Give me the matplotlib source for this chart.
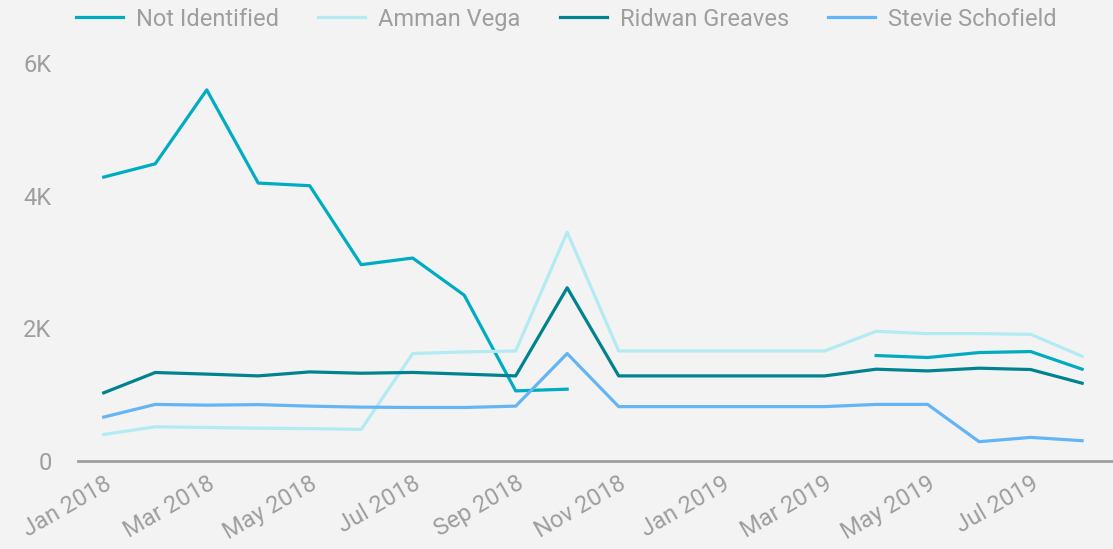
#Line chart of monthly counts per person, Jan 2018 - Aug 2019
import numpy as np
import matplotlib.pyplot as plt
from matplotlib.ticker import FuncFormatter

plt.rcParams['font.family'] = ['Roboto', 'DejaVu Sans']

months = ['Jan 2018', 'Feb 2018', 'Mar 2018', 'Apr 2018', 'May 2018', 'Jun 2018',
          'Jul 2018', 'Aug 2018', 'Sep 2018', 'Oct 2018', 'Nov 2018', 'Dec 2018',
          'Jan 2019', 'Feb 2019', 'Mar 2019', 'Apr 2019', 'May 2019', 'Jun 2019',
          'Jul 2019', 'Aug 2019']

nan = np.nan
not_identified = [4280, 4480, 5595, 4190, 4150, 2960, 3060, 2500, 1057, 1083,
                  nan, nan, nan, nan, nan, 1590, 1560, 1635, 1650, 1384]
amman_vega = [400, 516, 505, 495, 488, 476, 1620, 1644, 1659, 3449,
              1659, 1659, 1659, 1659, 1659, 1955, 1920, 1920, 1910, 1579]
ridwan_greaves = [1028, 1334, 1310, 1283, 1343, 1323, 1335, 1310, 1283, 2612,
                  1283, 1283, 1283, 1283, 1283, 1384, 1358, 1399, 1379, 1173]
stevie_schofield = [662, 853, 842, 850, 827, 812, 807, 807, 827, 1620,
                    820, 820, 820, 820, 820, 853, 853, 291, 356, 306]

series = [('Not Identified', not_identified, '#00acc1'),
          ('Amman Vega', amman_vega, '#b2ebf2'),
          ('Ridwan Greaves', ridwan_greaves, '#00838f'),
          ('Stevie Schofield', stevie_schofield, '#64b5f6')]

bg = '#f3f3f3'
grey = '#9e9e9e'

fig = plt.figure(figsize=(11.13, 5.49), dpi=100, facecolor=bg)
ax = fig.add_axes([78 / 1113, 1 - 461 / 549, 1 - 78 / 1113, (461 - 63) / 549])
ax.set_facecolor(bg)

x = np.arange(len(months))
for name, vals, col in series:
    ax.plot(x, vals, color=col, lw=2.3, label=name, clip_on=False)

ax.set_xlim(-0.5, 19.6)
ax.set_ylim(0, 6000)
ax.set_yticks([0, 2000, 4000, 6000])
ax.yaxis.set_major_formatter(FuncFormatter(lambda v, p: '0' if v == 0 else '%dK' % (v / 1000)))
ax.set_xticks(x[::2])
ax.set_xticklabels(months[::2], rotation=30, ha='right', rotation_mode='anchor')

for s in ['top', 'right', 'left']:
    ax.spines[s].set_visible(False)
ax.spines['bottom'].set_color(grey)
ax.spines['bottom'].set_linewidth(2)
ax.tick_params(axis='both', length=0, colors=grey, labelsize=17)
ax.tick_params(axis='y', pad=19)
ax.tick_params(axis='x', pad=8)

fig.legend(loc='upper center', bbox_to_anchor=(0.509, 1.025), ncol=4, frameon=False,
           fontsize=17, labelcolor=grey, handlelength=2.0, handletextpad=0.55,
           columnspacing=1.65)

plt.savefig('out.png', dpi=100, facecolor=bg)
